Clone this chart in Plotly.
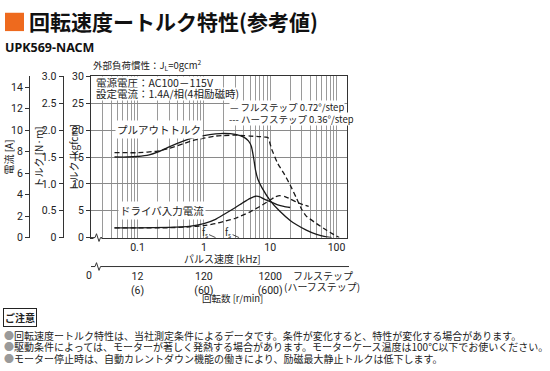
import math
import plotly.graph_objects as go

# ---------------- data ----------------
# Pull-out torque [kgfcm] vs pulse speed [kHz]
full_f = [0.045, 0.07, 0.1, 0.15, 0.2, 0.3, 0.5, 0.7, 1.0, 1.5, 2.0, 3.0, 4.0, 4.7, 5.2, 5.6, 6.0, 6.5, 7.5, 10, 14, 20, 25, 35, 50, 70, 85]
full_T = [15.0, 15.0, 15.1, 15.4, 15.9, 16.9, 18.0, 18.6, 19.0, 19.3, 19.4, 19.2, 18.7, 18.0, 17.0, 15.0, 12.6, 10.9, 9.3, 6.9, 4.9, 3.2, 2.4, 1.4, 0.6, 0.15, 0.0]
half_f = [0.045, 0.07, 0.1, 0.2, 0.3, 0.5, 0.7, 1.0, 1.5, 2.0, 3.0, 4.0, 5.0, 7.0, 8.5, 9.3, 10.5, 13, 16, 20, 25, 30, 35, 50, 70, 90, 110]
half_T = [15.8, 15.8, 15.8, 16.1, 16.6, 17.5, 18.1, 18.5, 18.9, 19.0, 19.1, 19.0, 18.9, 18.8, 18.7, 18.6, 16.5, 13.8, 12.0, 9.8, 7.3, 5.2, 4.0, 2.6, 1.4, 0.6, 0.0]

# Driver input current [A] vs pulse speed [kHz]
full_If = [0.045, 0.1, 0.3, 0.6, 1.0, 1.5, 2.0, 3.0, 4.0, 5.0, 6.0, 7.0, 8.0, 10, 13, 16, 20]
full_I = [0.9, 0.9, 0.95, 1.05, 1.3, 1.7, 2.15, 2.8, 3.3, 3.65, 3.85, 3.8, 3.6, 3.35, 3.05, 2.9, 2.8]
half_If = [0.045, 0.3, 0.6, 1.0, 1.5, 2.0, 3.0, 5.0, 7.0, 10, 12, 14, 17, 20, 27, 38]
half_I = [0.9, 0.92, 1.0, 1.12, 1.3, 1.5, 1.8, 2.4, 2.9, 3.5, 3.8, 3.9, 3.8, 3.6, 3.2, 2.9]

x_grid = [0.02, 0.03, 0.04, 0.05, 0.06, 0.07, 0.08, 0.09,
          0.1, 0.2, 0.3, 0.4, 0.5, 0.6, 0.7, 0.8, 0.9,
          1, 2, 3, 4, 5, 6, 7, 8, 9,
          10, 20, 30, 40, 50, 60, 70, 80, 90, 100]
x_labels = {0.1: "0.1", 1: "1", 10: "10", 100: "100"}
rpm_ticks = [0.1, 1, 10]
rpm_ticktext = ["12<br>(6)", "120<br>(60)", "1200<br>(600)"]
kgf_ticks = [0, 5, 10, 15, 20, 25, 30]
nm_ticks = [0, 0.5, 1.0, 1.5, 2.0, 2.5, 3.0]
nm_ticktext = ["0", "0.5", "1.0", "1.5", "2.0", "2.5", "3.0"]
amp_ticks = [0, 2, 4, 6, 8, 10, 12, 14]
fs_marks = [1.5, 3.4]

notes = [
    "回転速度ートルク特性は、当社測定条件によるデータです。条件が変化すると、特性が変化する場合があります。",
    "駆動条件によっては、モーターが著しく発熱する場合があります。モーターケース温度は100℃以下でお使いください。",
    "モーター停止時は、自動カレントダウン機能の働きにより、励磁最大静止トルクは低下します。",
]

# ---------------- layout helpers ----------------
W, H = 550, 371
def px(x): return x / W
def py(y): return 1 - y / H

JP = "Noto Sans CJK JP"
NUM = "Liberation Sans Narrow, Roboto, Noto Sans CJK JP"
INK = "#222222"
GRID = "#9a9a9a"

fig = go.Figure()
line_solid = dict(color="#1a1a1a", width=1.3, shape="spline", smoothing=0.5)
line_dash = dict(color="#1a1a1a", width=1.3, shape="spline", smoothing=0.5, dash="5px,3px")

fig.add_trace(go.Scatter(x=full_f, y=full_T, mode="lines", line=line_solid, yaxis="y", xaxis="x", showlegend=False, hoverinfo="skip"))
fig.add_trace(go.Scatter(x=half_f, y=half_T, mode="lines", line=line_dash, yaxis="y", xaxis="x", showlegend=False, hoverinfo="skip"))
fig.add_trace(go.Scatter(x=full_If, y=full_I, mode="lines", line=line_solid, yaxis="y3", xaxis="x", showlegend=False, hoverinfo="skip"))
fig.add_trace(go.Scatter(x=half_If, y=half_I, mode="lines", line=line_dash, yaxis="y3", xaxis="x", showlegend=False, hoverinfo="skip"))
fig.add_trace(go.Scatter(x=[None], y=[None], yaxis="y2", xaxis="x", showlegend=False, hoverinfo="skip"))
fig.add_trace(go.Scatter(x=[None], y=[None], yaxis="y", xaxis="x2", showlegend=False, hoverinfo="skip"))

xr = [-1.701, 2.158]
xdom = [px(91), px(347)]
ydom = [py(240), py(73)]

fig.update_layout(
    width=W, height=H,
    margin=dict(l=0, r=0, t=0, b=0),
    paper_bgcolor="white", plot_bgcolor="white",
    font=dict(family=JP, size=10, color=INK),
    showlegend=False,
    xaxis=dict(
        type="log", range=xr, domain=xdom, anchor="y",
        showline=True, linecolor="#333", linewidth=1.2, mirror=True,
        showgrid=True, gridcolor=GRID, gridwidth=1,
        tickvals=x_grid, ticktext=[x_labels.get(v, "") for v in x_grid], ticks="",
        tickfont=dict(family=NUM, size=10.5, color=INK),
        zeroline=False,
    ),
    xaxis2=dict(
        type="log", range=xr, overlaying="x", anchor="free", position=py(272),
        side="bottom", showline=False, showgrid=False,
        tickvals=rpm_ticks, ticktext=rpm_ticktext, ticks="",
        tickfont=dict(family=NUM, size=10.5, color=INK), zeroline=False,
    ),
    yaxis=dict(
        range=[0, 30], domain=ydom, anchor="x",
        showline=True, linecolor="#333", linewidth=1.2, mirror=True,
        showgrid=True, gridcolor="#8a8a8a", gridwidth=1,
        tickvals=kgf_ticks, ticks="outside", ticklen=4, tickcolor="#333",
        tickfont=dict(family=NUM, size=10.5, color=INK), zeroline=False,
    ),
    yaxis2=dict(
        range=[0, 3.0], overlaying="y", anchor="free", position=px(62.5), side="left",
        showline=True, linecolor="#333", linewidth=1, showgrid=False,
        tickvals=nm_ticks, ticktext=nm_ticktext, ticks="outside", ticklen=4, tickcolor="#333",
        tickfont=dict(family=NUM, size=10.5, color=INK), zeroline=False,
    ),
    yaxis3=dict(
        range=[0, 15], overlaying="y", anchor="free", position=px(29), side="left",
        showline=True, linecolor="#333", linewidth=1, showgrid=False,
        tickvals=amp_ticks, ticks="outside", ticklen=4, tickcolor="#333",
        tickfont=dict(family=NUM, size=10.5, color=INK), zeroline=False,
    ),
)

ann = []
def A(x, y, text, size=10, xanchor="left", yanchor="middle", **kw):
    d = dict(x=px(x), y=py(y), xref="paper", yref="paper", text=text, showarrow=False,
             xanchor=xanchor, yanchor=yanchor, font=dict(family=kw.pop("family", JP), size=size, color=kw.pop("color", INK)))
    d.update(kw)
    ann.append(d)

# header
A(27, 16, "<b>回転速度ートルク特性(参考値)</b>", size=21, color="#111")
A(3, 43, "<b>UPK569-NACM</b>", size=12.5, color="#111", family="Noto Sans")
A(91, 61, "外部負荷慣性：J<sub>L</sub>=0gcm<sup>2</sup>", size=9.5)

# axis titles
A(8, 157, "電流 [A]", size=10, xanchor="center", textangle=-90)
A(38, 157, "トルク [N·m]", size=10, xanchor="center", textangle=-90)
A(73, 157, "トルク [kgfcm]", size=10, xanchor="center", textangle=-90)
A(222, 262, "パルス速度 [kHz]", size=10, xanchor="center")
A(232, 303, "回転数 [r/min]", size=9.5, xanchor="center")
A(89, 279, "0", size=10.5, xanchor="center", family=NUM)
A(323, 279, "フルステップ", size=10, xanchor="center")
A(322, 291, "(ハーフステップ)", size=10, xanchor="center")

# in-plot texts (white boxes hide the grid behind them)
A(95, 80, "電源電圧：AC100－115V", size=10.5, bgcolor="white", borderpad=0, height=11.5)
A(95, 91.5, "設定電流：1.4A/相(4相励磁時)", size=10.5, bgcolor="white", borderpad=0, height=11.5)
A(229, 104.5, "— フルステップ 0.72°/step", size=9.5, bgcolor="white", borderpad=0, height=12)
A(228, 117, "--- ハーフステップ 0.36°/step", size=9.5, bgcolor="white", borderpad=0, height=12)
A(115, 128.5, "プルアウトトルク", size=10.5, bgcolor="white", borderpad=1)
A(118, 212, "ドライバ入力電流", size=10.5, bgcolor="white", borderpad=1)

# fs markers
for fx in fs_marks:
    ann.append(dict(x=math.log10(fx), y=0, xref="x", yref="y", text="f<sub>s</sub>", showarrow=True,
                    arrowhead=0, arrowwidth=0.8, arrowcolor=INK, ax=-11, ay=-5,
                    font=dict(family=JP, size=9.5, color=INK)))

# notes
A(3, 322.5, "<b>ご注意</b>", size=10, bordercolor="#222", borderwidth=1, borderpad=1, bgcolor="white")
for i, t in enumerate(notes):
    A(2, 340.5 + 12 * i, "<span style='color:#9a9a9a'>●</span>" + t, size=10, height=12)

fig.update_layout(annotations=ann)

shapes = [
    # orange square
    dict(type="rect", xref="paper", yref="paper", x0=px(5), x1=px(24), y0=py(26), y1=py(7),
         fillcolor="#ee6a1e", line=dict(width=0)),
    # break on the plot x-axis
    dict(type="line", xref="paper", yref="paper", x0=px(93.5), x1=px(101.5), y0=py(240), y1=py(240),
         line=dict(color="white", width=3), layer="above"),
    dict(type="path", xref="paper", yref="paper",
         path=f"M {px(91)} {py(240)} L {px(95)} {py(240)} L {px(96.5)} {py(236)} L {px(99)} {py(244)} L {px(100.5)} {py(240)} L {px(102)} {py(240)}",
         line=dict(color="#333", width=1), layer="above"),
    # rpm axis line with break
    dict(type="path", xref="paper", yref="paper",
         path=f"M {px(91)} {py(270)} L {px(95)} {py(270)} L {px(96.5)} {py(266)} L {px(99)} {py(274)} L {px(100.5)} {py(270)} L {px(349)} {py(270)}",
         line=dict(color="#333", width=1), layer="above"),
]
fig.update_layout(shapes=shapes)

fig.write_html("out.html", config={"displayModeBar": False},
               post_script="document.body.style.margin='0';document.body.style.overflow='hidden';")
